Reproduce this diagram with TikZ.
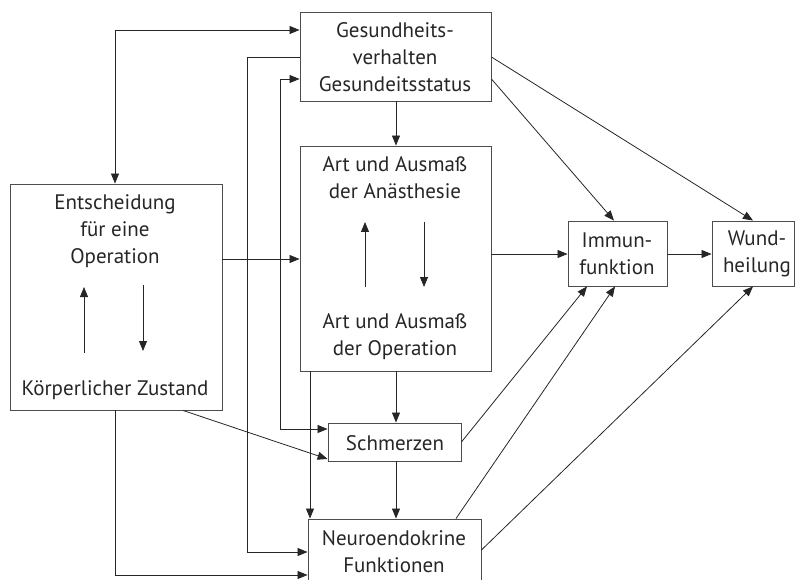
\documentclass[tikz,border=0pt]{standalone}
\usepackage{fontspec}
\setmainfont{PT Sans}
\usetikzlibrary{arrows.meta}
\begin{document}
\begin{tikzpicture}[x=1pt,y=-1pt,
  box/.style={draw=black!70, line width=0.9pt, inner sep=0pt},
  txt/.style={align=center, inner sep=0pt, font=\fontsize{21}{27}\selectfont, text=black!85},
  arr/.style={line width=0.8pt, draw=black!85, -{Triangle[length=10pt,width=8pt]}},
  darr/.style={line width=0.8pt, draw=black!85, {Triangle[length=10pt,width=8pt]}-{Triangle[length=10pt,width=8pt]}}
]
\useasboundingbox (0,0) rectangle (795,580);
% boxes
\node[box, minimum width=191pt, minimum height=89pt] (G) at (395.5,56.5) {};
\node[box, minimum width=191pt, minimum height=225pt] (A) at (395.5,258.5) {};
\node[box, minimum width=212pt, minimum height=226pt] (E) at (116,297) {};
\node[box, minimum width=99pt, minimum height=65pt] (I) at (617.5,253.5) {};
\node[box, minimum width=82pt, minimum height=65pt] (W) at (753,253.5) {};
\node[box, minimum width=133pt, minimum height=38pt] (S) at (394.5,442) {};
\node[box, minimum width=173pt, minimum height=70pt] (N) at (394.5,554) {};
% texts
\node[txt] (Gt) at (395,57) {Gesundheits-\\verhalten\\Gesundeitsstatus};
\node[txt] (Et) at (115,231) {Entscheidung\\für eine\\Operation};
\node[txt] (Kt) at (115,390) {Körperlicher Zustand};
\node[txt] (A1) at (395,178) {Art und Ausmaß\\der Anästhesie};
\node[txt] (A2) at (395,337) {Art und Ausmaß\\der Operation};
\node[txt] (It) at (617,254) {Immun-\\funktion};
\node[txt] (Wt) at (757,254) {Wund-\\heilung};
\node[txt] (St) at (395,443) {Schmerzen};
\node[txt] (Nt) at (394,552) {Neuroendokrine\\Funktionen};
% inner arrows
\coordinate (Eu1) at (84,353); \coordinate (Eu2) at (84,287);
\coordinate (Ed1) at (143,285); \coordinate (Ed2) at (143,351);
\coordinate (Au1) at (365,287); \coordinate (Au2) at (365,222);
\coordinate (Ad1) at (424,222); \coordinate (Ad2) at (424,287);
\draw[arr] (Eu1) -- (Eu2);
\draw[arr] (Ed1) -- (Ed2);
\draw[arr] (Au1) -- (Au2);
\draw[arr] (Ad1) -- (Ad2);
% connectors
\draw[darr] (E.north -| 115,0) |- (G.west |- 0,30);
\draw[arr] (G.west |- 0,57) -| (247,552) -- (N.west |- 0,552);
\draw[darr] (G.west |- 0,79) -| (280,429) -- (S.west |- 0,429);
\draw[arr] (E.east |- 0,259) -- (A.west |- 0,259);
\draw[arr] (G.south -| 396,0) -- (A.north -| 396,0);
\draw[arr] (A.east |- 0,254) -- (I.west |- 0,254);
\draw[arr] (I.east |- 0,254) -- (W.west |- 0,254);
\draw[arr] (G.east |- 0,57) -- (W.north -| 753,0);
\draw[arr] (G.east |- 0,79) -- (I.north -| 614,0);
\draw[arr] (A.south -| 396,0) -- (S.north -| 396,0);
\draw[arr] (A.south -| 310,0) -- (N.north -| 310,0);
\draw[arr] (S.south -| 396,0) -- (N.north -| 396,0);
\draw[arr] (E.south -| 115,0) |- (N.west |- 0,575);
\draw[arr] (E.south -| 183,0) -- (S.west |- 0,459);
\draw[arr] (S.east |- 0,442) -- (I.south -| 587,0);
\draw[arr] (N.north -| 456,0) -- (I.south -| 615,0);
\draw[arr] (N.east |- 0,550) -- (W.south -| 753,0);
\end{tikzpicture}
\end{document}
